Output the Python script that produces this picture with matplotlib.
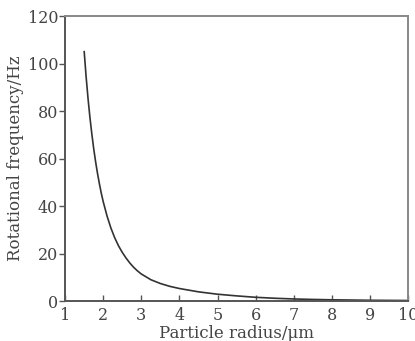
import matplotlib.pyplot as plt

# 読み取った値: 粒子半径 (μm) と回転周波数 (Hz)
radius = [1.5, 1.55, 1.6, 1.65, 1.7, 1.75, 1.8, 1.85, 1.9, 1.95, 2.0, 2.1,
          2.2, 2.3, 2.4, 2.5, 2.6, 2.7, 2.8, 2.9, 3.0, 3.25, 3.5, 3.75,
          4.0, 4.5, 5.0, 5.5, 6.0, 6.5, 7.0, 7.5, 8.0, 9.0, 10.0]
frequency = [105, 94.5, 85.4, 77.4, 70.4, 64.1, 58.6, 53.7, 49.3, 45.3, 41.8, 35.8,
             30.8, 26.7, 23.3, 20.5, 18.1, 16.0, 14.2, 12.7, 11.4, 9.0, 7.4, 6.2,
             5.3, 3.9, 2.9, 2.2, 1.6, 1.2, 0.9, 0.7, 0.55, 0.35, 0.25]

x_ticks = [1, 2, 3, 4, 5, 6, 7, 8, 9, 10]
y_ticks = [0, 20, 40, 60, 80, 100, 120]

plt.rcParams['font.family'] = ['DejaVu Serif']

fig = plt.figure(figsize=(4.15, 3.41), dpi=100)
ax = fig.add_axes([0.157, 0.117, 0.826, 0.836])

ax.plot(radius, frequency, color='#333333', linewidth=1.2)

ax.set_xlim(1, 10)
ax.set_ylim(0, 120)
ax.set_xticks(x_ticks)
ax.set_yticks(y_ticks)

for side in ['left', 'bottom']:
    ax.spines[side].set_color('#555555')
    ax.spines[side].set_linewidth(1.4)
for side in ['top', 'right']:
    ax.spines[side].set_color('#888888')
    ax.spines[side].set_linewidth(1.4)

ax.tick_params(axis='x', direction='in', length=4, width=1, colors='#555555',
               labelsize=11.5, labelcolor='#444444', pad=4)
ax.tick_params(axis='y', direction='out', length=4, width=1, colors='#555555',
               labelsize=11.5, labelcolor='#444444', pad=1)

ax.set_xlabel('Particle radius/μm', fontsize=12, color='#444444', labelpad=1)
ax.set_ylabel('Rotational frequency/Hz', fontsize=12, color='#444444', labelpad=3)

fig.savefig('out.png', dpi=100)
